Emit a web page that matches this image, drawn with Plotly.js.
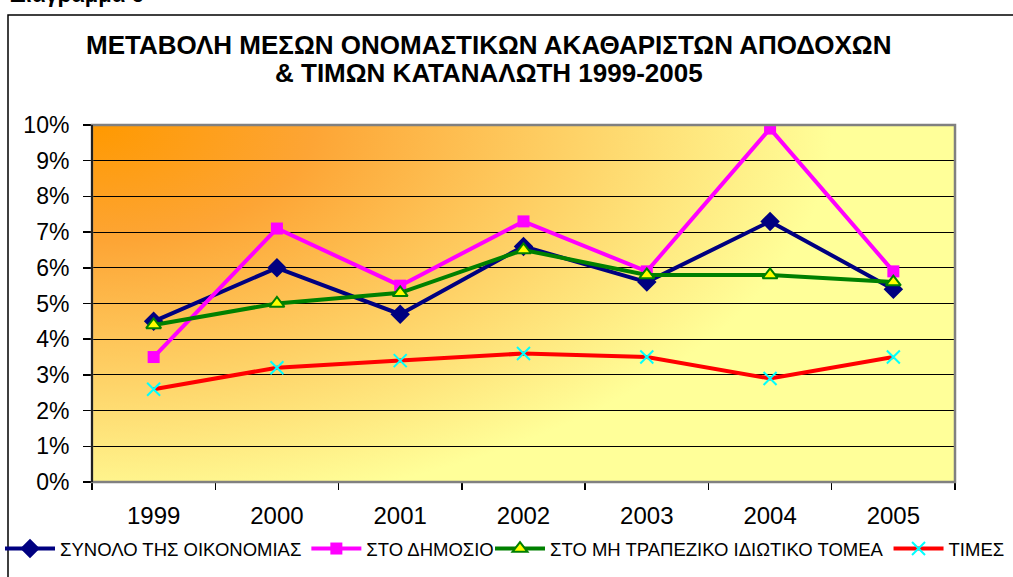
<!DOCTYPE html>
<html>
<head>
<meta charset="utf-8">
<script src="https://cdn.plot.ly/plotly-3.0.1.min.js"></script>
<style>html,body{margin:0;padding:0;background:#fff;}#chart{width:1013px;height:577px;}</style>
</head>
<body>
<div id="chart"></div>
<script>
const years = ['1999','2000','2001','2002','2003','2004','2005'];
const synolo = [4.5, 6.0, 4.7, 6.6, 5.6, 7.3, 5.4];
const dimosio = [3.5, 7.1, 5.5, 7.3, 5.9, 9.9, 5.9];
const idiotiko = [4.4, 5.0, 5.3, 6.5, 5.8, 5.8, 5.6];
const times = [2.6, 3.2, 3.4, 3.6, 3.5, 2.9, 3.5];
const names = ['ΣΥΝΟΛΟ ΤΗΣ ΟΙΚΟΝΟΜΙΑΣ', 'ΣΤΟ ΔΗΜΟΣΙΟ', 'ΣΤΟ ΜΗ ΤΡΑΠΕΖΙΚΟ ΙΔΙΩΤΙΚΟ ΤΟΜΕΑ', 'ΤΙΜΕΣ'];
const yTicks = [0,1,2,3,4,5,6,7,8,9,10];

const W = 1013, H = 577;
const L = 92, R = 955, T = 125, B = 482;
const pw = R - L, ph = B - T;
const px = x => (x - L) / pw;
const py = y => (B - y) / ph;

// gradient background image
const cv = document.createElement('canvas');
cv.width = pw; cv.height = ph;
const ctx = cv.getContext('2d');
ctx.fillStyle = '#FFFF99';
ctx.fillRect(0,0,pw,ph);
ctx.save();
const sx = 1.9;
ctx.scale(sx, 1);
const g = ctx.createRadialGradient(0,0,0,0,0,390);
g.addColorStop(0, '#FF9900');
g.addColorStop(0.3, '#FDA535');
g.addColorStop(1, '#FFFF99');
ctx.fillStyle = g;
ctx.fillRect(0,0,pw/sx+1,ph);
ctx.restore();
const bg = cv.toDataURL('image/png');

const font = 'Liberation Sans, Arial, sans-serif';

const traces = [
  {x: years, y: synolo, name: names[0], type: 'scatter', mode: 'lines+markers', legend: 'legend',
   line: {color: '#000080', width: 4}, marker: {symbol: 'diamond', size: 15, color: '#000080'}},
  {x: years, y: dimosio, name: names[1], type: 'scatter', mode: 'lines+markers', legend: 'legend',
   line: {color: '#FF00FF', width: 4}, marker: {symbol: 'square', size: 12, color: '#FF00FF'}},
  {x: years, y: idiotiko, name: names[2], type: 'scatter', mode: 'lines+markers', legend: 'legend2',
   line: {color: '#008000', width: 4}, marker: {symbol: 'triangle-up', size: 13, color: '#FFFF00', line: {color: '#008000', width: 2}}},
  {x: years, y: times, name: names[3], type: 'scatter', mode: 'lines+markers', legend: 'legend2',
   line: {color: '#FF0000', width: 4}, marker: {symbol: 'x-thin', size: 13, color: '#00FFFF', line: {color: '#00FFFF', width: 2}}}
];

const legendBase = {orientation: 'h', xref: 'container', yref: 'container', xanchor: 'left',
  y: (H - 549) / H, yanchor: 'middle', font: {size: 18.5, family: font},
  bgcolor: 'rgba(0,0,0,0)', tracegroupgap: 0, itemwidth: 50};

const layout = {
  width: W, height: H,
  margin: {l: L, r: W - R, t: T, b: H - B},
  paper_bgcolor: '#FFFFFF',
  plot_bgcolor: 'rgba(0,0,0,0)',
  font: {family: font, color: '#000'},
  showlegend: true,
  legend: Object.assign({}, legendBase, {x: 0 / W}),
  legend2: Object.assign({}, legendBase, {x: 490 / W}),
  xaxis: {type: 'category', range: [-0.5, 6.5], tickson: 'boundaries', ticks: 'outside', ticklen: 7,
          tickcolor: '#000', tickwidth: 1.5, showgrid: false, zeroline: false, showline: false,
          tickfont: {size: 24, family: font}, ticklabelstandoff: 17, automargin: false, fixedrange: true},
  yaxis: {range: [0, 10], tickvals: yTicks, ticktext: yTicks.map(v => v + '%'), ticks: 'outside', ticklen: 8,
          tickcolor: '#000', tickwidth: 1.5, showgrid: true, gridcolor: '#000', gridwidth: 1.2,
          zeroline: false, showline: false, tickfont: {size: 23, family: font}, ticklabelstandoff: 9,
          automargin: false},
  images: [{source: bg, xref: 'paper', yref: 'paper', x: 0, y: 1, sizex: 1, sizey: 1,
            sizing: 'stretch', xanchor: 'left', yanchor: 'top', layer: 'below'}],
  shapes: [
    {type: 'rect', xref: 'paper', yref: 'paper', x0: 0, x1: 1, y0: 0, y1: 1,
     line: {color: '#808080', width: 2.5}, layer: 'above'},
    {type: 'line', xref: 'paper', yref: 'paper', x0: 0, x1: 0, y0: 0, y1: 1,
     line: {color: '#000', width: 1.5}, layer: 'above'},
    {type: 'rect', xref: 'paper', yref: 'paper', x0: px(8), x1: px(1020), y0: py(590), y1: py(15),
     line: {color: '#000', width: 1.5}, layer: 'above'}
  ],
  annotations: [
    {text: 'Διάγραμμα 6', xref: 'paper', yref: 'paper', x: px(8), y: py(-6), xanchor: 'left', yanchor: 'middle',
     showarrow: false, font: {size: 22, family: font, weight: 'bold'}},
    {text: '<b>ΜΕΤΑΒΟΛΗ ΜΕΣΩΝ ΟΝΟΜΑΣΤΙΚΩΝ ΑΚΑΘΑΡΙΣΤΩΝ ΑΠΟΔΟΧΩΝ</b>', xref: 'paper', yref: 'paper',
     x: px(489), y: py(45), xanchor: 'center', yanchor: 'middle', showarrow: false, font: {size: 26, family: font}},
    {text: '<b>& ΤΙΜΩΝ ΚΑΤΑΝΑΛΩΤΗ 1999-2005</b>', xref: 'paper', yref: 'paper',
     x: px(489), y: py(73), xanchor: 'center', yanchor: 'middle', showarrow: false, font: {size: 26, family: font}}
  ]
};

Plotly.newPlot('chart', traces, layout, {displayModeBar: false, staticPlot: true});
</script>
</body>
</html>
